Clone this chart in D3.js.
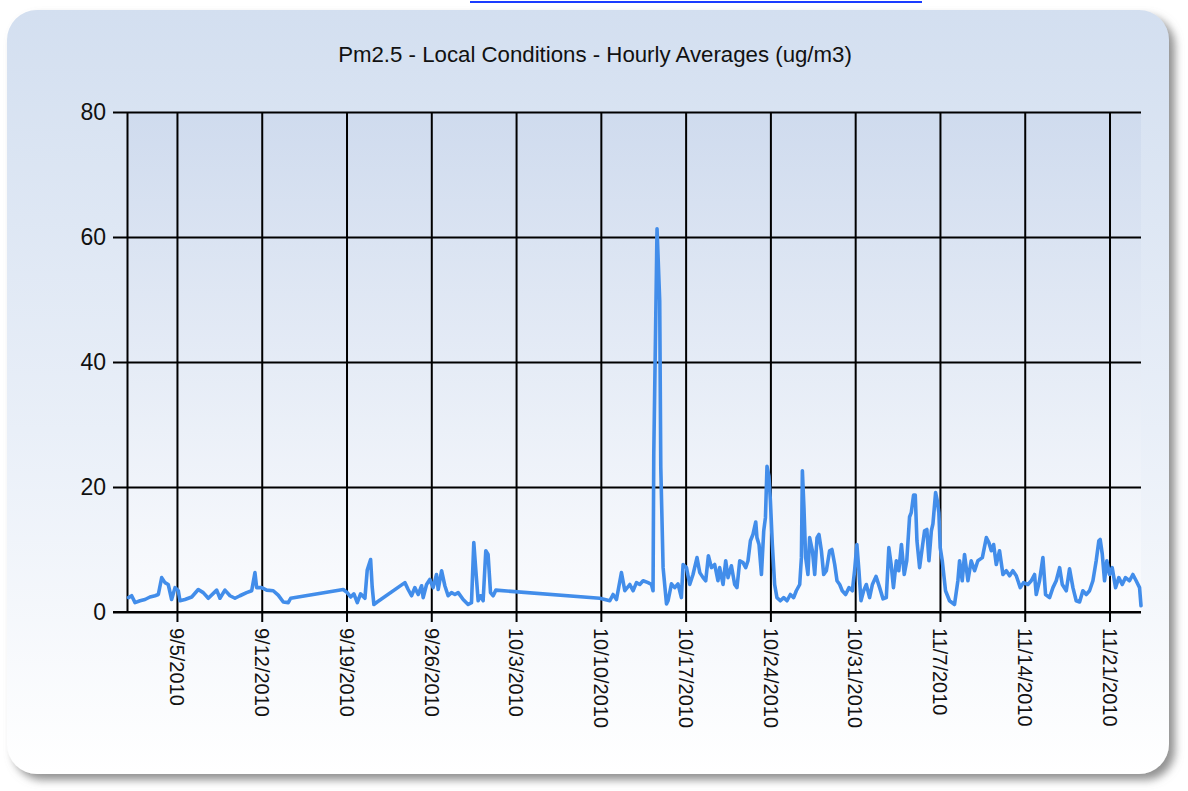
<!DOCTYPE html>
<html><head><meta charset="utf-8">
<script src="https://cdn.jsdelivr.net/npm/d3@7"></script>
<style>html,body{margin:0;padding:0;background:#fff;overflow:hidden}</style>
</head><body>
<svg id="chart" width="1188" height="791"></svg>
<script>
// ---------------- data ----------------
const chartTitle = "Pm2.5 - Local Conditions - Hourly Averages (ug/m3)";
const dataStart = "2010-09-01T00:00";          // day 0 of the series
const axisStart = "2010-08-31T21:00";          // left end of the time axis
// time of each reading, in days since 9/1/2010 00:00
const daysSinceSep1 = [
  0.0,0.26,0.54,0.95,1.36,1.77,2.19,2.46,2.74,3.01,3.28,3.56,3.84,4.11,4.25,4.66,5.22,5.76,6.17,6.59,
  7.28,7.55,7.96,8.38,8.79,9.2,9.75,10.17,10.44,10.58,10.99,11.41,11.95,12.36,12.78,13.19,13.39,
  17.73,18.06,18.34,18.61,18.89,19.16,19.52,19.71,19.99,20.12,20.26,20.53,
  22.82,23.09,23.37,23.64,23.92,24.2,24.33,24.61,24.88,25.15,25.43,25.57,25.85,26.12,26.39,26.67,26.95,27.22,
  27.63,28.04,28.32,28.51,28.68,28.87,29.06,29.28,29.5,29.69,29.89,30.11,30.33,
  38.91,39.74,40.01,40.29,40.7,40.98,41.39,41.66,41.94,42.21,42.49,42.9,43.18,43.31,43.37,43.64,43.86,43.95,
  44.14,44.42,44.55,44.83,45.1,45.37,45.65,45.79,46.07,46.34,46.61,46.94,47.17,47.44,47.66,47.88,48.13,48.4,
  48.67,48.81,49.09,49.31,49.5,49.78,50.05,50.24,50.47,50.74,50.96,51.15,51.35,51.56,51.79,51.89,52.06,52.26,
  52.45,52.59,52.72,52.88,53.0,53.16,53.35,53.54,53.82,54.1,54.37,54.65,54.92,55.14,55.42,55.56,55.64,55.77,
  55.91,56.1,56.24,56.47,56.66,56.85,57.01,57.21,57.4,57.62,57.89,58.08,58.31,58.5,58.72,58.93,59.21,59.49,
  59.77,59.95,60.14,60.31,60.48,60.7,60.92,61.19,61.42,61.72,62.02,62.3,62.57,62.78,62.97,63.16,63.4,63.6,
  63.82,64.05,64.26,64.49,64.63,64.82,64.96,65.1,65.32,65.54,65.73,65.92,66.09,66.29,66.42,66.64,66.78,66.91,
  67.02,67.19,67.46,67.79,68.2,68.48,68.62,68.84,69.03,69.31,69.58,69.86,70.13,70.5,70.83,71.04,71.24,71.43,
  71.65,71.92,72.2,72.48,72.75,73.02,73.3,73.63,73.9,74.26,74.54,74.81,74.95,75.22,75.5,75.72,76.05,76.33,
  76.6,76.88,77.1,77.43,77.7,77.98,78.25,78.53,78.8,79.08,79.35,79.63,79.9,80.12,80.23,80.4,80.59,80.78,
  81.0,81.22,81.5,81.77,82.05,82.32,82.65,82.93,83.2,83.48,83.6
];
// hourly PM2.5 average (ug/m3) at each of those times
const pm25 = [
  2.3,2.6,1.5,1.8,2.0,2.4,2.6,2.8,5.5,4.7,4.4,2.0,3.9,3.4,1.8,2.0,2.4,3.6,3.1,2.2,
  3.5,2.2,3.5,2.6,2.2,2.6,3.1,3.4,6.3,3.9,3.9,3.5,3.4,2.7,1.6,1.5,2.2,
  3.6,3.1,2.4,2.9,1.5,2.9,2.2,6.7,8.4,4.0,1.2,1.6,
  4.7,3.6,2.6,3.9,2.8,4.2,2.3,4.4,5.2,3.9,6.0,3.6,6.6,4.2,2.6,3.1,2.8,3.1,
  2.0,1.2,1.5,11.1,6.6,1.8,2.6,1.8,9.8,9.2,3.1,2.6,3.5,
  2.2,1.8,2.8,2.0,6.3,3.4,4.4,3.4,4.7,4.4,5.0,4.7,4.4,3.4,25.3,61.3,49.8,23.1,
  7.1,1.3,1.8,4.5,3.9,4.5,2.3,7.6,7.1,4.4,6.0,8.7,6.3,5.5,5.0,9.0,7.1,7.6,
  5.0,7.1,4.4,8.2,5.5,7.4,4.4,3.9,8.2,7.9,7.1,8.2,11.4,12.4,14.4,11.9,10.8,6.0,
  13.0,15.1,23.3,21.7,17.8,10.8,4.4,2.3,1.8,2.3,1.8,2.8,2.3,3.4,4.4,8.7,22.6,16.7,
  8.7,6.0,11.9,9.8,6.0,11.9,12.4,9.8,6.0,6.6,9.8,10.0,7.6,5.0,4.4,3.4,2.8,3.9,
  3.4,6.6,10.8,6.6,1.8,3.4,4.4,2.3,4.4,5.7,3.9,2.1,2.3,10.3,7.6,3.9,8.2,6.6,
  10.8,6.0,8.2,15.2,15.9,18.7,18.7,11.4,7.1,10.3,13.0,13.2,8.2,13.0,14.1,19.1,17.8,15.9,
  10.3,8.2,3.4,1.8,1.2,5.0,8.2,5.0,9.2,5.0,8.2,6.6,8.2,8.7,11.9,11.1,9.8,10.8,
  7.6,9.8,6.0,6.6,5.8,6.6,5.8,3.9,4.7,4.4,5.0,6.0,2.8,5.0,8.7,2.8,2.3,3.9,
  5.0,7.1,4.4,3.4,6.9,3.9,1.8,1.6,3.4,2.8,3.4,5.0,8.2,11.4,11.6,9.3,5.0,8.2,
  6.0,7.1,3.9,5.5,4.4,5.5,5.0,6.0,5.0,3.9,1.0
];
const xTickDates = ["2010-09-05","2010-09-12","2010-09-19","2010-09-26","2010-10-03","2010-10-10",
  "2010-10-17","2010-10-24","2010-10-31","2010-11-07","2010-11-14","2010-11-21"];
const yTicks = [0, 20, 40, 60, 80];

// ---------------- drawing ----------------
const svg = d3.select("#chart");
const plot = {left: 127, right: 1141, top: 112, bottom: 612};

const parse = d3.utcParse("%Y-%m-%dT%H:%M");
const parseDay = d3.utcParse("%Y-%m-%d");
const t0 = parse(dataStart);
const DAY = 86400000;
const data = daysSinceSep1.map((d, i) => ({date: new Date(t0.getTime() + d * DAY), value: pm25[i]}));

const x = d3.scaleUtc()
  .domain([parse(axisStart), data[data.length - 1].date])
  .range([plot.left, plot.right]);
const y = d3.scaleLinear().domain([0, 80]).range([plot.bottom, plot.top]);

const defs = svg.append("defs");
const pg = defs.append("linearGradient").attr("id", "panelGrad").attr("x1", 0).attr("y1", 0).attr("x2", 0).attr("y2", 1);
pg.append("stop").attr("offset", "0%").attr("stop-color", "#d3dff0");
pg.append("stop").attr("offset", "55%").attr("stop-color", "#e9eff8");
pg.append("stop").attr("offset", "100%").attr("stop-color", "#ffffff");
const ag = defs.append("linearGradient").attr("id", "plotGrad").attr("x1", 0).attr("y1", 0).attr("x2", 0).attr("y2", 1);
ag.append("stop").attr("offset", "0%").attr("stop-color", "#cfdbee");
ag.append("stop").attr("offset", "100%").attr("stop-color", "#fbfcfe");
const sh = defs.append("filter").attr("id", "shadow").attr("x", "-5%").attr("y", "-5%").attr("width", "112%").attr("height", "112%");
sh.append("feDropShadow").attr("dx", 6).attr("dy", 6).attr("stdDeviation", 4)
  .attr("flood-color", "#7f7f7f").attr("flood-opacity", 0.85);

// link underline fragment at top of page
svg.append("line").attr("x1", 470).attr("x2", 922).attr("y1", 2).attr("y2", 2)
  .attr("stroke", "#1a3cff").attr("stroke-width", 2);

// panel
svg.append("rect").attr("x", 7).attr("y", 10).attr("width", 1162).attr("height", 764)
  .attr("rx", 30).attr("ry", 30).attr("fill", "url(#panelGrad)").attr("filter", "url(#shadow)");

// plot area
svg.append("rect").attr("x", plot.left).attr("y", plot.top)
  .attr("width", plot.right - plot.left).attr("height", plot.bottom - plot.top)
  .attr("fill", "url(#plotGrad)");

// title
const title = svg.append("text").attr("x", 595).attr("y", 62).attr("text-anchor", "middle")
  .attr("font-family", "Liberation Sans, Arial, sans-serif").attr("font-size", 18)
  .attr("fill", "#111").text(chartTitle);
const tw = title.node().getComputedTextLength();
title.attr("font-size", 18 * 514 / tw);

// y axis with gridlines
const yAxis = svg.append("g").attr("transform", `translate(${plot.left},0)`)
  .call(d3.axisLeft(y).tickValues(yTicks).tickSizeOuter(0).tickPadding(20));
yAxis.select(".domain").attr("stroke", "#000").attr("stroke-width", 2);
yAxis.selectAll(".tick line").attr("x1", -14).attr("x2", plot.right - plot.left)
  .attr("stroke", "#000").attr("stroke-width", 2);
yAxis.selectAll(".tick text").attr("x", -21).attr("font-family", "Liberation Sans, Arial, sans-serif")
  .attr("font-size", 23).attr("fill", "#111");

// x axis with gridlines
const xAxis = svg.append("g").attr("transform", `translate(0,${plot.bottom})`)
  .call(d3.axisBottom(x).tickValues(xTickDates.map(parseDay)).tickFormat(d3.utcFormat("%-m/%-d/%Y")).tickSizeOuter(0));
xAxis.select(".domain").attr("d", `M${plot.left - 14},0H${plot.right}`).attr("stroke", "#000").attr("stroke-width", 2);
xAxis.selectAll(".tick line").attr("y1", -(plot.bottom - plot.top)).attr("y2", 10)
  .attr("stroke", "#000").attr("stroke-width", 2);
xAxis.selectAll(".tick text")
  .attr("transform", "rotate(90)").attr("x", 16).attr("y", 0).attr("dy", "0.36em")
  .style("text-anchor", "start")
  .attr("font-family", "Liberation Sans, Arial, sans-serif").attr("font-size", 20).attr("fill", "#111");

// series line
svg.append("path").datum(data)
  .attr("fill", "none").attr("stroke", "#428dea").attr("stroke-width", 3.6)
  .attr("stroke-linejoin", "round").attr("stroke-linecap", "round")
  .attr("d", d3.line().x(d => x(d.date)).y(d => y(d.value)));
</script>
</body></html>
